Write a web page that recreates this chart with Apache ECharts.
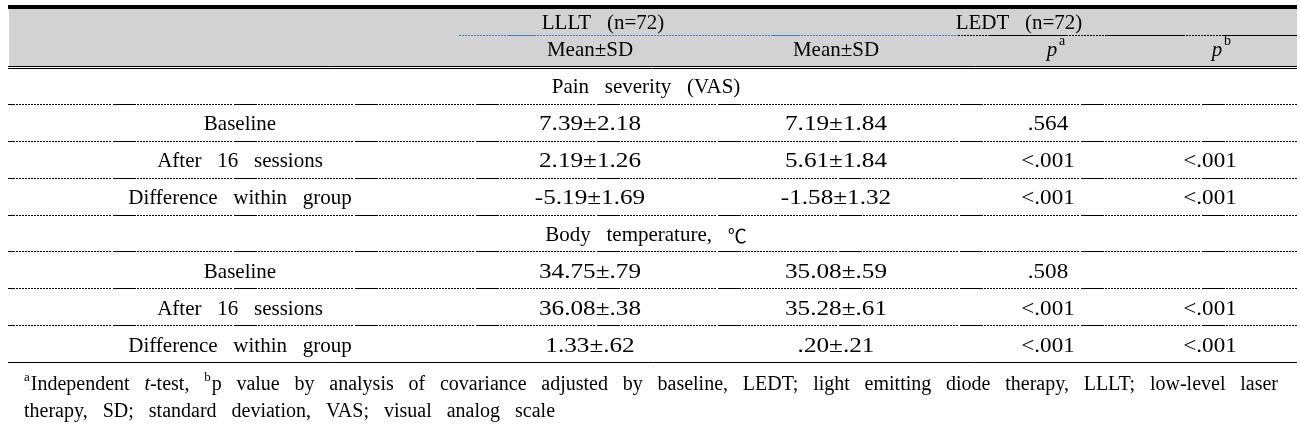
<!DOCTYPE html>
<html>
<head>
<meta charset="utf-8">
<script src="https://cdn.jsdelivr.net/npm/echarts@6/dist/echarts.min.js"></script>
<style>html,body{margin:0;padding:0;background:#fff}#chart{width:1300px;height:431px}</style>
</head>
<body>
<div id="chart"></div>
<script>
// ---------------- DATA ----------------
const sections = ['Pain severity (VAS)', 'Body temperature, ℃'];
const timepoints = ['Baseline', 'After 16 sessions', 'Difference within group'];
const groupHeaders = ['LLLT (n=72)', 'LEDT (n=72)'];
const statHeaders = ['Mean±SD', 'Mean±SD', 'p', 'p'];
const statSups = ['', '', 'a', 'b'];
const painLLLT = ['7.39±2.18', '2.19±1.26', '-5.19±1.69'];
const painLEDT = ['7.19±1.84', '5.61±1.84', '-1.58±1.32'];
const painPa = ['.564', '<.001', '<.001'];
const painPb = ['', '<.001', '<.001'];
const tempLLLT = ['34.75±.79', '36.08±.38', '1.33±.62'];
const tempLEDT = ['35.08±.59', '35.28±.61', '.20±.21'];
const tempPa = ['.508', '<.001', '<.001'];
const tempPb = ['', '<.001', '<.001'];
const footLine1 = ['{sup|a}Independent', '{it|t}-test,', '{sup|b}p', 'value', 'by', 'analysis', 'of', 'covariance',
  'adjusted', 'by', 'baseline,', 'LEDT;', 'light', 'emitting', 'diode', 'therapy,', 'LLLT;', 'low-level', 'laser'];
const footLine2 = ['therapy,', 'SD;', 'standard', 'deviation,', 'VAS;', 'visual', 'analog', 'scale'];

// ---------------- LAYOUT ----------------
const FONT = "'Liberation Serif', 'Times New Roman', 'Noto Sans CJK KR', serif";
const FS = 21;
const TABLE_L = 8, TABLE_R = 1297, TABLE_W = TABLE_R - TABLE_L;
const COL_X = [240, 590, 836, 1048, 1210];
const NUM_SCALE = [1, 1.2, 1.2, 1.1, 1.1];
const GROUP_X = [603, 1019];
const SECTION_X = 646;
const TEXT_DY = 2;
const P_DX = [0, 0, 7, 10];
const wide = s => s.replace(/ /g, ' \u2002');
const richSym = s => s.replace(/℃/g, '{sym|℃}');
const RICH = { sym: { fontSize: 19, fontFamily: "'Noto Sans CJK KR', 'DejaVu Sans', sans-serif", fill: '#000' } };

// dotted line with periodic solid segments
const DOT_DASH = [23, 1];
for (let i = 0; i < 31; i++) DOT_DASH.push(2, 1);
DOT_DASH.push(2, 2);
const BLUE_DASH = [29, 1];
for (let i = 0; i < 78; i++) BLUE_DASH.push(2, 1);
const BLACK_DASH = [80, 1];
for (let i = 0; i < 12; i++) BLACK_DASH.push(2, 1);

// ---------------- BUILD ROWS ----------------
const colsBySection = [[painLLLT, painLEDT, painPa, painPb], [tempLLLT, tempLEDT, tempPa, tempPb]];
const rows = [];
const cells = [];
sections.forEach((sec, s) => {
  const r0 = rows.length;
  rows.push(r0);
  cells.push({ c: -1, r: r0, text: sec });
  timepoints.forEach((tp, i) => {
    const r = rows.length;
    rows.push(r);
    cells.push({ c: 0, r, text: tp });
    colsBySection[s].forEach((arr, k) => {
      if (arr[i]) cells.push({ c: k + 1, r, text: arr[i] });
    });
  });
});

const headerCells = [];
groupHeaders.forEach((g, i) => headerCells.push({ kind: 'group', i, r: 0, text: g }));
statHeaders.forEach((h, i) => headerCells.push({ kind: 'stat', i, r: 1, text: h, sup: statSups[i] }));

function txt(x, y, text, extra) {
  return Object.assign({
    type: 'text', x, y,
    style: { text, rich: RICH, fontSize: FS, fontFamily: FONT, fill: '#000', align: 'center', verticalAlign: 'middle' }
  }, extra || {});
}

// ---------------- FOOTNOTE (justified) ----------------
const measureCtx = document.createElement('canvas').getContext('2d');
const FOOT_FS = 20, SUP_FS = 13;
function runsOf(word) {
  const out = [];
  const re = /\{(\w+)\|([^}]*)\}|([^{]+)/g;
  let m;
  while ((m = re.exec(word))) {
    if (m[1]) out.push({ kind: m[1], t: m[2] }); else out.push({ kind: 'n', t: m[3] });
  }
  return out;
}
function fontOf(kind) {
  if (kind === 'sup') return SUP_FS + 'px ' + FONT;
  if (kind === 'it') return 'italic ' + FOOT_FS + 'px ' + FONT;
  return FOOT_FS + 'px ' + FONT;
}
function wordWidth(runs) {
  return runs.reduce((a, r) => { measureCtx.font = fontOf(r.kind); return a + measureCtx.measureText(r.t).width; }, 0);
}
function layoutLine(words, x0, x1, y, fixedGap) {
  const parsed = words.map(runsOf);
  const widths = parsed.map(wordWidth);
  const total = widths.reduce((a, b) => a + b, 0);
  const gap = fixedGap != null ? fixedGap : (x1 - x0 - total) / (words.length - 1);
  const els = [];
  let x = x0;
  parsed.forEach((runs) => {
    runs.forEach(r => {
      measureCtx.font = fontOf(r.kind);
      const w = measureCtx.measureText(r.t).width;
      els.push({
        type: 'text', x, y: r.kind === 'sup' ? y - 7 : y, z: 10,
        style: { text: r.t, font: fontOf(r.kind), fill: '#000', align: 'left', verticalAlign: 'middle' }
      });
      x += w + (r.kind === 'sup' ? 1 : 0);
    });
    x += gap;
  });
  return els;
}
const footEls = layoutLine(footLine1, 24, 1276, 385).concat(layoutLine(footLine2, 24, 0, 412, 15));

// ---------------- CHART ----------------
const chart = echarts.init(document.getElementById('chart'), null, { renderer: 'canvas' });
chart.setOption({
  animation: false,
  backgroundColor: '#fff',
  grid: [
    { left: TABLE_L, right: 1300 - TABLE_R, top: 67.5, bottom: 431 - 362.5 },
    { left: TABLE_L, right: 1300 - TABLE_R, top: 9, height: 52 }
  ],
  xAxis: [
    { gridIndex: 0, type: 'value', min: 0, max: TABLE_W, show: false },
    { gridIndex: 1, type: 'value', min: 0, max: TABLE_W, show: false }
  ],
  yAxis: [
    { gridIndex: 0, type: 'category', data: rows, inverse: true, show: false },
    { gridIndex: 1, type: 'category', data: [0, 1], inverse: true, show: false }
  ],
  graphic: [
    { type: 'rect', z: -10, shape: { x: TABLE_L + 1, y: 9, width: TABLE_W - 1, height: 57 }, style: { fill: '#d2d2d2' } },
    { type: 'rect', z: 10, shape: { x: TABLE_L, y: 5, width: TABLE_W, height: 4 }, style: { fill: '#000' } },
    { type: 'line', z: 10, shape: { x1: TABLE_L, y1: 66.5, x2: TABLE_R, y2: 66.5 }, style: { stroke: '#000', lineWidth: 1 } },
    { type: 'line', z: 10, shape: { x1: TABLE_L, y1: 68.5, x2: TABLE_R, y2: 68.5 }, style: { stroke: '#000', lineWidth: 1 } }
  ].concat(footEls),
  series: [
    {
      // body row separators
      type: 'custom', xAxisIndex: 0, yAxisIndex: 0, z: 3, silent: true,
      data: rows.map(r => [0, r]),
      renderItem(params, api) {
        const r = api.value(1);
        const p0 = api.coord([0, r]);
        const p1 = api.coord([TABLE_W, r]);
        const h = api.size([0, 1])[1];
        const y = Math.floor(p0[1] + h / 2) + 0.5;
        const last = r === rows.length - 1;
        return {
          type: 'line',
          shape: { x1: p0[0], y1: y, x2: p1[0], y2: y },
          style: last ? { stroke: '#000', lineWidth: 1 }
                      : { stroke: '#000', lineWidth: 1, lineDash: DOT_DASH, lineDashOffset: 16 }
        };
      }
    },
    {
      // body cells
      type: 'custom', xAxisIndex: 0, yAxisIndex: 0, z: 4, silent: true,
      data: cells.map(c => [c.c, c.r]),
      renderItem(params, api) {
        const cell = cells[params.dataIndex];
        const xs = cell.c < 0 ? SECTION_X : COL_X[cell.c];
        const pt = api.coord([xs - TABLE_L, api.value(1)]);
        const sx = cell.c > 0 ? NUM_SCALE[cell.c] : 1;
        return txt(pt[0], pt[1] + TEXT_DY, richSym(wide(cell.text)), { scaleX: sx });
      }
    },
    {
      // header separator line (between group row and stat row)
      type: 'custom', xAxisIndex: 1, yAxisIndex: 1, z: 3, silent: true,
      data: [[0, 0]],
      renderItem(params, api) {
        const p = api.coord([0, 0]);
        const h = api.size([0, 1])[1];
        const y = Math.floor(p[1] + h / 2) + 0.5;
        const xa = api.coord([458 - TABLE_L, 0])[0];
        const xb = api.coord([958 - TABLE_L, 0])[0];
        const xc = api.coord([TABLE_W, 0])[0];
        return {
          type: 'group', children: [
            { type: 'line', shape: { x1: xa, y1: y, x2: xb, y2: y }, style: { stroke: '#3f7fd0', lineWidth: 1, lineDash: BLUE_DASH, lineDashOffset: 215 } },
            { type: 'line', shape: { x1: xb, y1: y, x2: xc, y2: y }, style: { stroke: '#000', lineWidth: 1, lineDash: BLACK_DASH, lineDashOffset: 87 } }
          ]
        };
      }
    },
    {
      // header cells
      type: 'custom', xAxisIndex: 1, yAxisIndex: 1, z: 4, silent: true,
      data: headerCells.map(c => [c.i, c.r]),
      renderItem(params, api) {
        const cell = headerCells[params.dataIndex];
        if (cell.kind === 'group') {
          const pt = api.coord([GROUP_X[cell.i] - TABLE_L, api.value(1)]);
          return txt(pt[0], pt[1] + TEXT_DY - 1, wide(cell.text));
        }
        const col = cell.i + 1;
        if (!cell.sup) {
          const pt = api.coord([COL_X[col] - TABLE_L, api.value(1)]);
          return txt(pt[0], pt[1] + TEXT_DY, cell.text);
        }
        const pt = api.coord([COL_X[col] + P_DX[cell.i] - TABLE_L, api.value(1)]);
        return {
          type: 'group', children: [
            { type: 'text', x: pt[0] - 3, y: pt[1] + TEXT_DY,
              style: { text: cell.text, fontSize: FS, fontStyle: 'italic', fontFamily: FONT, fill: '#000', align: 'center', verticalAlign: 'middle' } },
            { type: 'text', x: pt[0] + 4, y: pt[1] + TEXT_DY - 9,
              style: { text: cell.sup, fontSize: 14, fontFamily: FONT, fill: '#000', align: 'left', verticalAlign: 'middle' } }
          ]
        };
      }
    }
  ]
});
</script>
</body>
</html>
